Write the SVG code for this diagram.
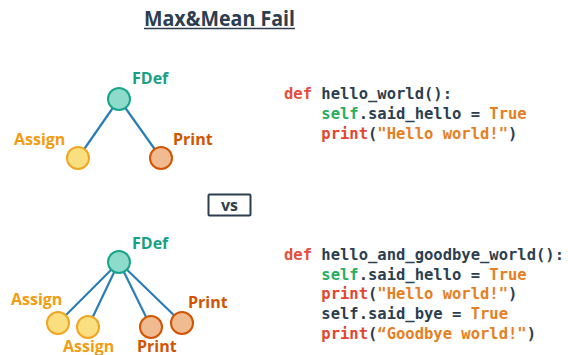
<svg xmlns="http://www.w3.org/2000/svg" width="568" height="355" viewBox="0 0 568 355">
  <style>
    .lbl { font-family: "Open Sans", "Liberation Sans", sans-serif; font-weight: bold; font-size: 16px; }
    .fdef-t { fill: #16a085; }
    .assign-t { fill: #f39c12; }
    .print-t { fill: #d35400; }
    .fdef { fill: #8ddccb; stroke: #17a589; stroke-width: 2; }
    .assign { fill: #f9df80; stroke: #f0a623; stroke-width: 2; }
    .print { fill: #f0bb90; stroke: #d35400; stroke-width: 2; }
    .edge { stroke: #2a7db8; stroke-width: 2.2; fill: none; }
    .code { font-family: "DejaVu Sans Mono", "Liberation Mono", monospace; font-weight: bold; font-size: 15.5px; fill: #2c3e50; white-space: pre; }
    .kw { fill: #e74c3c; }
    .slf { fill: #27ae60; }
    .bool { fill: #e67e22; }
    .str { fill: #e67e22; }
    .fn { fill: #e2462f; }
  </style>
  <rect width="568" height="355" fill="#ffffff"/>

  <!-- title -->
  <g id="title">
    <text x="144" y="26" textLength="151" lengthAdjust="spacingAndGlyphs" font-family="Open Sans, Liberation Sans, sans-serif" font-weight="bold" font-size="21" fill="#2c3e50">Max&amp;Mean Fail</text>
    <line x1="144" y1="28.5" x2="295" y2="28.5" stroke="#2c3e50" stroke-width="1.5"/>
  </g>

  <!-- connectors -->
  <g id="connectors">
    <line class="edge" x1="119" y1="99" x2="78" y2="158"/>
    <line class="edge" x1="119" y1="99" x2="161" y2="158"/>
    <line class="edge" x1="119" y1="262" x2="58" y2="323"/>
    <line class="edge" x1="119" y1="262" x2="88" y2="327"/>
    <line class="edge" x1="119" y1="262" x2="151" y2="327"/>
    <line class="edge" x1="119" y1="262" x2="182" y2="323"/>
  </g>

  <!-- upper tree -->
  <g id="top-fdef">
    <circle class="fdef" cx="119" cy="99" r="11"/>
    <text class="lbl fdef-t" x="132" y="84">FDef</text>
  </g>
  <g id="top-assign">
    <circle class="assign" cx="78" cy="158" r="11"/>
    <text class="lbl assign-t" x="14" y="145">Assign</text>
  </g>
  <g id="top-print">
    <circle class="print" cx="161" cy="158" r="11"/>
    <text class="lbl print-t" x="173" y="145">Print</text>
  </g>

  <!-- upper code -->
  <g id="top-code">
    <text class="code" x="284" y="99"><tspan class="kw">def</tspan> hello_world():</text>
    <text class="code" x="284" y="118.5">    <tspan class="slf">self</tspan>.said_hello = <tspan class="bool">True</tspan></text>
    <text class="code" x="284" y="138.5">    <tspan class="fn">print</tspan>(<tspan class="str">"Hello world!"</tspan>)</text>
  </g>

  <!-- vs -->
  <g id="vs">
    <rect x="208.5" y="194.5" width="42" height="21" fill="none" stroke="#2c3e50" stroke-width="2" rx="1"/>
    <text x="229.5" y="210.5" text-anchor="middle" font-family="Open Sans, Liberation Sans, sans-serif" font-weight="bold" font-size="16" fill="#2c3e50">vs</text>
  </g>

  <!-- lower tree -->
  <g id="bottom-fdef">
    <circle class="fdef" cx="119" cy="262" r="11"/>
    <text class="lbl fdef-t" x="132" y="249">FDef</text>
  </g>
  <g id="bottom-assign-1">
    <circle class="assign" cx="58" cy="323" r="11"/>
    <text class="lbl assign-t" x="11" y="305">Assign</text>
  </g>
  <g id="bottom-assign-2">
    <circle class="assign" cx="88" cy="327" r="11"/>
    <text class="lbl assign-t" x="63" y="352">Assign</text>
  </g>
  <g id="bottom-print-1">
    <circle class="print" cx="151" cy="327" r="11"/>
    <text class="lbl print-t" x="137" y="352">Print</text>
  </g>
  <g id="bottom-print-2">
    <circle class="print" cx="182" cy="323" r="11"/>
    <text class="lbl print-t" x="188" y="308">Print</text>
  </g>

  <!-- lower code -->
  <g id="bottom-code">
    <text class="code" x="284" y="260"><tspan class="kw">def</tspan> hello_and_goodbye_world():</text>
    <text class="code" x="284" y="279.5">    <tspan class="slf">self</tspan>.said_hello = <tspan class="bool">True</tspan></text>
    <text class="code" x="284" y="299.3">    <tspan class="fn">print</tspan>(<tspan class="str">"Hello world!"</tspan>)</text>
    <text class="code" x="284" y="319.2">    self.said_bye = <tspan class="bool">True</tspan></text>
    <text class="code" x="284" y="339">    <tspan class="fn">print</tspan>(<tspan class="str">“Goodbye world!"</tspan>)</text>
  </g>
</svg>
